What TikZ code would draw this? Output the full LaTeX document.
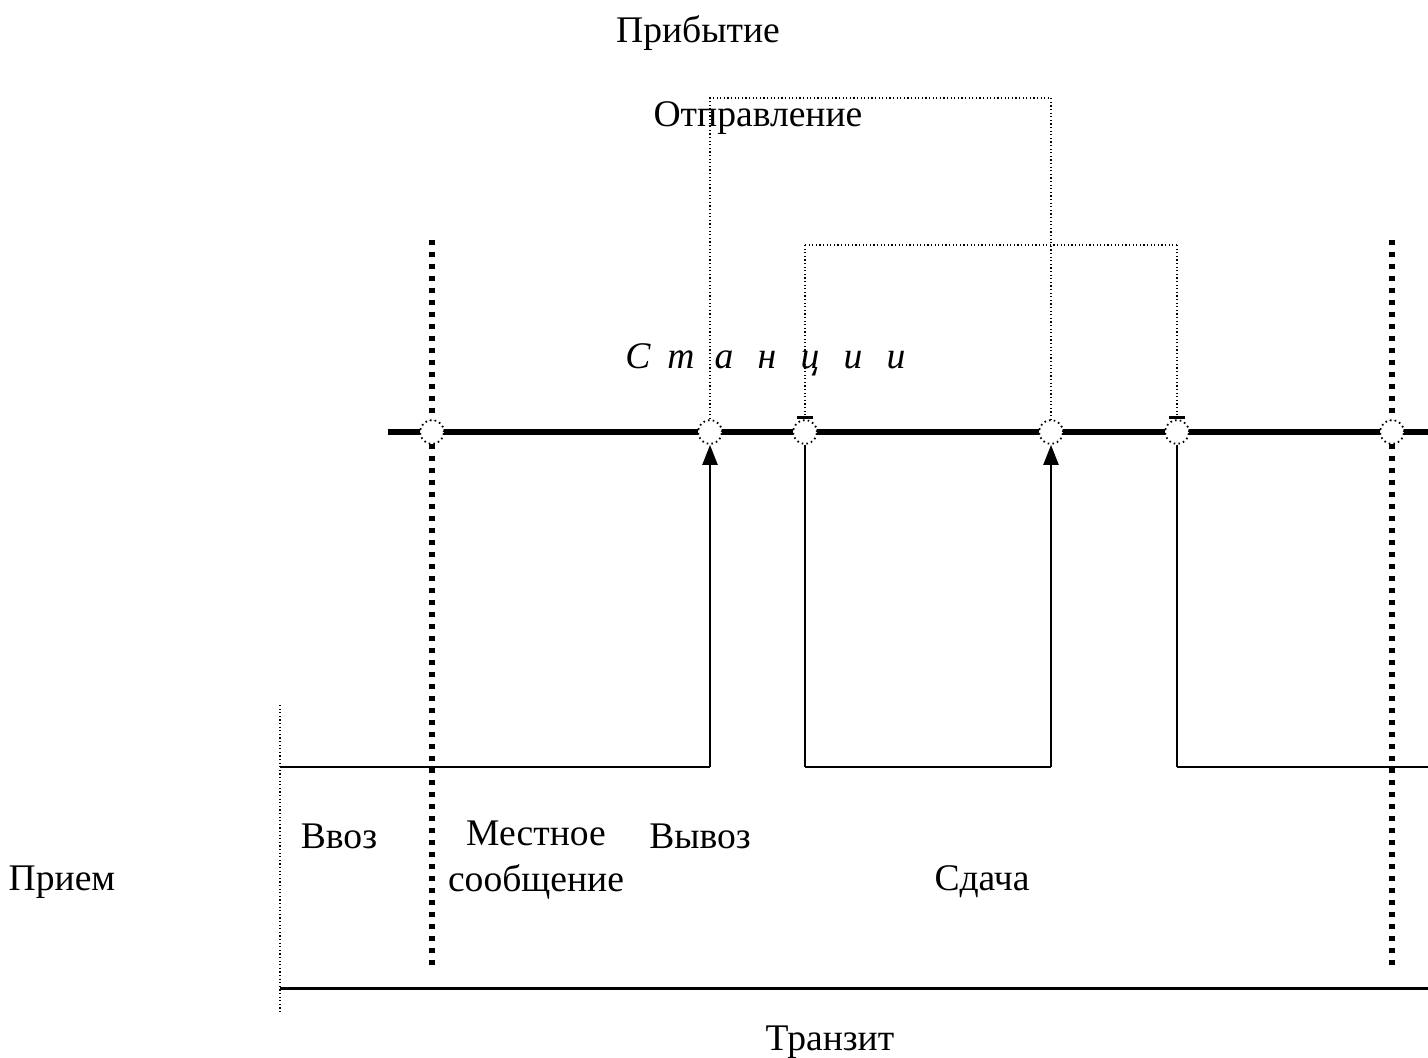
\documentclass[tikz,border=0pt]{standalone}
\usepackage{fontspec}
\setmainfont{Liberation Serif}
\usetikzlibrary{arrows.meta}
\begin{document}
\begin{tikzpicture}[x=0.5pt,y=-0.5pt,
  lbl/.style={font=\fontsize{18.8pt}{23pt}\selectfont, inner sep=0pt},
  station/.style={circle, draw, dash pattern=on 0.8pt off 1.6pt, line width=0.9pt,
    fill=white, minimum size=12pt, inner sep=0pt},
  border/.style={line width=2.6pt, dash pattern=on 2.6pt off 3.4pt},
  track/.style={line width=2.6pt},
  flow/.style={line width=1.2pt},
  base/.style={line width=1pt},
  link/.style={line width=0.7pt, dash pattern=on 0.6pt off 1.2pt},
  up/.style={-{Triangle[width=7.5pt,length=10pt]}},
  bar/.style={-{Bar[width=8pt,line width=1.6pt]}}]
\useasboundingbox (0,0) rectangle (1428,1058);

% labels
\node[lbl] (arr) at (698,33) {Прибытие};
\node[lbl] (dep) at (758,118) {Отправление};
\node[lbl, font=\fontsize{18.8pt}{23pt}\selectfont\itshape] (st) at (767,360)
  {\makebox[21.5pt]{С}\makebox[21.5pt]{т}\makebox[21.5pt]{а}\makebox[21.5pt]{н}\makebox[21.5pt]{ц}\makebox[21.5pt]{и}\makebox[21.5pt]{и}};
\node[lbl] (in) at (339,836) {Ввоз};
\node[lbl, align=center] (loc) at (536,860) {Местное\\сообщение};
\node[lbl] (out) at (700,836) {Вывоз};
\node[lbl] (rec) at (62,882) {Прием};
\node[lbl] (hand) at (982,882) {Сдача};
\node[lbl] (tr) at (830,1042) {Транзит};

% network borders
\coordinate (b1t) at (432,240); \coordinate (b1b) at (432,966);
\coordinate (b2t) at (1392,240); \coordinate (b2b) at (1392,966);
\draw[border] (b1t) -- (b1b);
\draw[border] (b2t) -- (b2b);

% thin boundary on the left
\coordinate (lt) at (280,705); \coordinate (lb) at (280,1012);
\draw[link] (lt) -- (lb);

% main track
\coordinate (tl) at (388,432); \coordinate (tr0) at (1428,432);
\draw[track] (tl) -- (tr0);

% stations
\node[station] (s1) at (432,432) {};
\node[station] (s2) at (710,432) {};
\node[station] (s3) at (805,432) {};
\node[station] (s4) at (1051,432) {};
\node[station] (s5) at (1177,432) {};
\node[station] (s6) at (1392,432) {};

% flows below the track
\coordinate (f1a) at (280,767); \coordinate (f1b) at (710,767);
\draw[base] (f1a) -- (f1b);
\draw[flow, up] (f1b) -- (s2.south);

\coordinate (f2a) at (805,767); \coordinate (f2b) at (1051,767);
\draw[flow] (s3.south) -- (f2a);
\draw[base] (f2a) -- (f2b);
\draw[flow, up] (f2b) -- (s4.south);

\coordinate (f3a) at (1177,767); \coordinate (f3b) at (1428,767);
\draw[flow] (s5.south) -- (f3a);
\draw[base] (f3a) -- (f3b);

% transit line
\coordinate (ta) at (280,988); \coordinate (tb) at (1428,988);
\draw[line width=1.5pt] (ta) -- (tb);

% dotted links above the track
\coordinate (d1a) at (710,98); \coordinate (d1b) at (1051,98);
\draw[link] (s2.north) -- (d1a) -- (d1b) -- (s4.north);
\coordinate (d2a) at (805,245); \coordinate (d2b) at (1177,245);
\draw[link, bar] (d2a) -- (s3.north);
\draw[link] (d2a) -- (d2b);
\draw[link, bar] (d2b) -- (s5.north);
\end{tikzpicture}
\end{document}
